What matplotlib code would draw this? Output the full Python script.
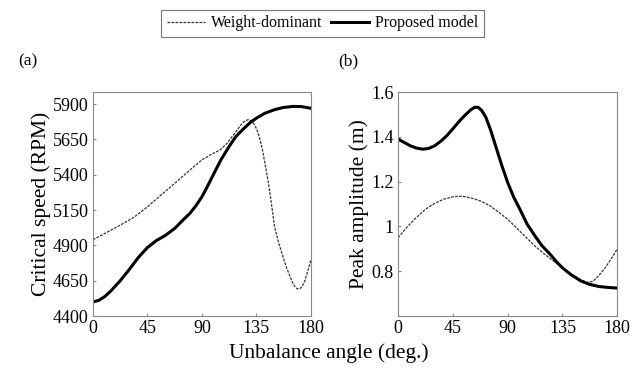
import numpy as np
import matplotlib.pyplot as plt

plt.rcParams['font.family'] = ['Liberation Serif', 'DejaVu Serif']

# (a) critical speed
ang_a_prop = [0, 5, 10, 15, 22.5, 30, 37.5, 45, 52.5, 60, 67.5, 75, 80, 85, 90, 95, 100, 106, 112.5, 118, 125, 130,
              135, 142, 150, 157, 165, 172, 180]
rpm_prop = [4500, 4512, 4540, 4580, 4650, 4730, 4815, 4885, 4935, 4972, 5020, 5085, 5126, 5180, 5244, 5325, 5410, 5510,
            5600, 5670, 5730, 5770, 5800, 5835, 5860, 5875, 5883, 5882, 5870]
ang_a_wd = [0, 11, 22.5, 34, 45, 56, 67.5, 79, 90, 98, 105, 110, 115, 119, 122, 125, 128, 130, 132, 134, 136, 138,
            140, 142.5, 145, 147.5, 150, 153.5, 157, 160, 163, 165, 167, 169, 171, 173, 175, 177.5, 180]
rpm_wd = [4940, 4990, 5043, 5100, 5173, 5255, 5339, 5425, 5505, 5545, 5576, 5615, 5670, 5715, 5750, 5777, 5789, 5785,
          5770, 5745, 5705, 5648, 5576, 5460, 5339, 5190, 5032, 4915, 4819, 4740, 4677, 4635, 4605, 4592, 4594, 4612,
          4650, 4720, 4795]

# (b) peak amplitude
ang_b_prop = [0, 5, 10, 15, 20, 25, 30, 35, 40, 45, 50, 55, 60, 63, 66, 69, 72, 76, 80, 85, 90, 95, 100, 106, 112.5,
              118, 125, 130, 135, 142, 150, 157, 165, 172, 180]
amp_prop = [1.39, 1.375, 1.36, 1.35, 1.345, 1.348, 1.36, 1.38, 1.405, 1.436, 1.468, 1.497, 1.522, 1.532, 1.531, 1.515,
            1.488, 1.43, 1.361, 1.275, 1.196, 1.13, 1.077, 1.01, 0.957, 0.915, 0.875, 0.843, 0.815, 0.785, 0.757,
            0.742, 0.732, 0.728, 0.725]
ang_b_wd = [0, 7, 14, 22.5, 30, 37.5, 45, 50, 55, 62, 67.5, 75, 82, 90, 97, 105, 112.5, 120, 127, 135, 142, 150, 155,
            160, 165, 170, 175, 180]
amp_wd = [0.95, 0.995, 1.035, 1.077, 1.103, 1.122, 1.132, 1.135, 1.133, 1.124, 1.114, 1.094, 1.066, 1.032, 0.995,
          0.952, 0.912, 0.878, 0.848, 0.815, 0.787, 0.763, 0.75, 0.755, 0.782, 0.815, 0.855, 0.90]

xticks = [0, 45, 90, 135, 180]

fig = plt.figure(figsize=(6.39, 3.71), dpi=100)
ax1 = fig.add_axes([0.1455, 0.148, 0.341, 0.604])
ax2 = fig.add_axes([0.623, 0.148, 0.343, 0.604])

l1, = ax1.plot(ang_a_wd, rpm_wd, color='#333333', lw=0.9, ls=(0, (2.2, 1.0)))
l2, = ax1.plot(ang_a_prop, rpm_prop, color='black', lw=2.2, solid_joinstyle='round')
ax2.plot(ang_b_wd, amp_wd, color='#333333', lw=0.9, ls=(0, (2.2, 1.0)))
ax2.plot(ang_b_prop, amp_prop, color='black', lw=2.2, solid_joinstyle='round')

ax1.set_xlim(0, 180)
ax1.set_ylim(4400, 5985)
ax1.set_yticks([4400, 4650, 4900, 5150, 5400, 5650, 5900])
ax1.set_ylabel('Critical speed (RPM)', fontsize=15.5, labelpad=1)

ax2.set_xlim(0, 180)
ax2.set_ylim(0.6, 1.6)
ax2.set_yticks([0.8, 1.0, 1.2, 1.4, 1.6])
ax2.set_yticklabels(['0.8', '1', '1.2', '1.4', '1.6'])
ax2.set_ylabel('Peak amplitude (m)', fontsize=15.5, labelpad=2)

for ax in (ax1, ax2):
    ax.set_xticks(xticks)
    ax.tick_params(direction='in', length=2, labelsize=13, pad=3, color='#888888')
    for s in ax.spines.values():
        s.set_color('#888888')
        s.set_linewidth(0.8)

fig.text(0.028, 0.825, '(a)', fontsize=12.5)
fig.text(0.53, 0.825, '(b)', fontsize=12.5)
fig.text(0.515, 0.035, 'Unbalance angle (deg.)', fontsize=15.5, ha='center')

leg = fig.legend([l1, l2], ['Weight-dominant', 'Proposed model'], loc='upper center',
                 bbox_to_anchor=(0.505, 0.995), ncol=2, fontsize=11.5, frameon=True,
                 fancybox=False, edgecolor='#555555', handlelength=2.4,
                 columnspacing=0.5, handletextpad=0.4, borderpad=0.35)
leg.get_frame().set_linewidth(0.8)

fig.savefig('out.png', dpi=100)
